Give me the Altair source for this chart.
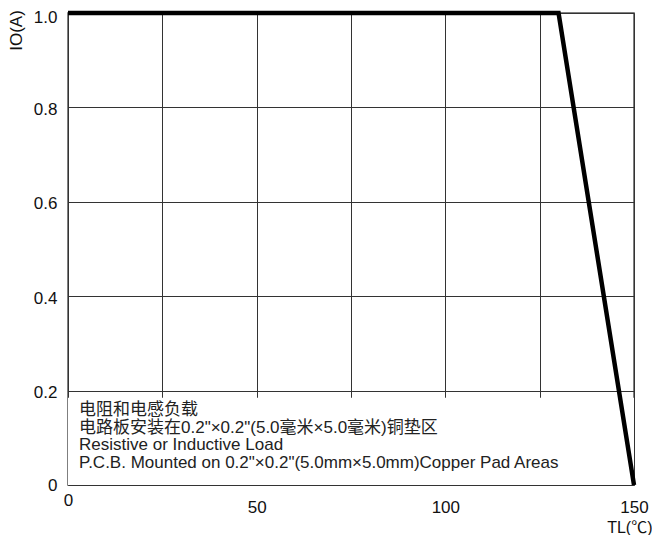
import altair as alt
import pandas as pd

# data
temp = [0, 130, 150]
current = [1.0, 1.0, 0.0]
x_ticks = [0, 25, 50, 75, 100, 125, 150]
y_ticks = [0, 0.2, 0.4, 0.6, 0.8, 1.0]
note_lines = [
    "电阻和电感负载",
    "电路板安装在0.2\"×0.2\"(5.0毫米×5.0毫米)铜垫区",
    "Resistive or Inductive Load",
    "P.C.B. Mounted on 0.2\"×0.2\"(5.0mm×5.0mm)Copper Pad Areas",
]
box_x = [0]
box_x2 = [150]
box_y = [0]
box_y2 = [0.185]

FONT = "Liberation Sans, Arial, Noto Sans CJK SC"

df = pd.DataFrame({"TL": temp, "IO": current})
box = pd.DataFrame({"x": box_x, "x2": box_x2, "y": box_y, "y2": box_y2})

xscale = alt.Scale(domain=[0, 150], nice=False)
yscale = alt.Scale(domain=[0, 1], nice=False)

xaxis = alt.Axis(
    values=x_ticks,
    labelExpr="datum.value % 50 == 0 ? (datum.value == 0 ? '0' : datum.label) : ''",
    ticks=False, domain=False, grid=True, gridColor="#333", gridWidth=1,
    labelFont=FONT, labelFontSize=17, labelColor="#111",
    labelPadding=alt.condition("datum.value == 0", alt.value(7), alt.value(14)),
    labelFlush=False,
    title="TL(℃)", titleFont=FONT, titleFontSize=16, titleFontWeight="normal",
    titleColor="#111", titleX=584, titleY=42, titleAlign="right",
    titleBaseline="middle",
)
yaxis = alt.Axis(
    values=y_ticks,
    labelExpr="datum.value == 0 ? '0' : format(datum.value, '.1f')",
    ticks=False, domain=False, grid=True, gridColor="#333", gridWidth=1,
    labelFont=FONT, labelFontSize=17, labelColor="#111", labelPadding=11,
    labelOffset={"condition": [{"test": "datum.value == 0", "value": 0},
                               {"test": "datum.value == 1", "value": 4}],
                 "value": 2},
    labelFlush=False,
    title="IO(A)", titleFont=FONT, titleFontSize=17, titleFontWeight="normal",
    titleColor="#111", titleX=-52, titleY=17, titleAngle=-90,
    titleAlign="center", titleBaseline="middle",
)

base_line = alt.Chart(df).mark_line(color="black", strokeWidth=4.5, clip=False).encode(
    x=alt.X("TL:Q", scale=xscale, axis=xaxis),
    y=alt.Y("IO:Q", scale=yscale, axis=yaxis),
)

rect = alt.Chart(box).mark_rect(fill="white").encode(
    x=alt.X("x:Q", scale=xscale), x2="x2:Q",
    y=alt.Y("y:Q", scale=yscale), y2="y2:Q",
)

note = alt.Chart(pd.DataFrame({"t": [note_lines]})).mark_text(
    align="left", baseline="top", font=FONT, fontSize=17, color="#222",
    lineHeight=17.5,
).encode(x=alt.value(11), y=alt.value(389), text="t")

chart = alt.layer(rect, note, base_line).properties(
    width=566, height=472,
    padding={"left": 60, "top": 5, "right": 18, "bottom": 50},
    autosize=alt.AutoSizeParams(type="none"),
).configure_view(stroke="#555", strokeWidth=1.5)

chart.save("out.html", embed_options={"renderer": "svg", "actions": False})
